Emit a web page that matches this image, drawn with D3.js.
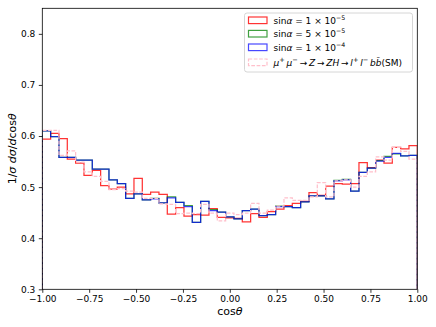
<!DOCTYPE html>
<html>
<head>
<meta charset="utf-8">
<script src="https://cdn.jsdelivr.net/npm/d3@7"></script>
<style>
  html, body { margin: 0; padding: 0; background: #fff; }
  svg { display: block; font-family: "DejaVu Sans", sans-serif; }
</style>
</head>
<body>
<svg id="chart" width="436" height="327"></svg>
<script>
// ---------------- data ----------------
const nBins = 45;
const xDomain = [-1, 1];
const yDomain = [0.3, 0.85];
const xTicks = [-1.0, -0.75, -0.5, -0.25, 0.0, 0.25, 0.5, 0.75, 1.0];
const xTickLabels = ["\u22121.00", "\u22120.75", "\u22120.50", "\u22120.25", "0.00", "0.25", "0.50", "0.75", "1.00"];
const yTicks = [0.3, 0.4, 0.5, 0.6, 0.7, 0.8];
const yTickLabels = ["0.3", "0.4", "0.5", "0.6", "0.7", "0.8"];

const redValues = [
  0.594, 0.605, 0.595, 0.555, 0.547, 0.523, 0.533, 0.503, 0.496, 0.500,
  0.487, 0.517, 0.486, 0.490, 0.486, 0.447, 0.460, 0.443, 0.446, 0.445,
  0.458, 0.441, 0.440, 0.439, 0.432, 0.448, 0.441, 0.452, 0.457, 0.464,
  0.468, 0.472, 0.489, 0.484, 0.502, 0.507, 0.506, 0.507, 0.548, 0.538,
  0.553, 0.547, 0.578, 0.575, 0.581
];
const greenValues = [
  0.610, 0.599, 0.558, 0.558, 0.553, 0.553, 0.535, 0.535, 0.514, 0.507,
  0.478, 0.487, 0.475, 0.478, 0.469, 0.481, 0.470, 0.464, 0.431, 0.472,
  0.456, 0.451, 0.442, 0.438, 0.454, 0.457, 0.444, 0.446, 0.463, 0.462,
  0.460, 0.471, 0.483, 0.483, 0.477, 0.513, 0.515, 0.492, 0.529, 0.537,
  0.552, 0.560, 0.565, 0.561, 0.562
];
const blueValues = [
  0.610, 0.599, 0.558, 0.558, 0.553, 0.553, 0.535, 0.535, 0.514, 0.507,
  0.478, 0.487, 0.475, 0.477, 0.469, 0.479, 0.470, 0.462, 0.431, 0.472,
  0.454, 0.451, 0.442, 0.438, 0.454, 0.457, 0.444, 0.446, 0.462, 0.462,
  0.460, 0.471, 0.483, 0.483, 0.477, 0.512, 0.514, 0.492, 0.529, 0.537,
  0.551, 0.558, 0.566, 0.561, 0.562
];
const pinkValues = [
  0.611, 0.611, 0.562, 0.571, 0.549, 0.530, 0.521, 0.511, 0.495, 0.497,
  0.492, 0.490, 0.478, 0.478, 0.467, 0.466, 0.448, 0.449, 0.448, 0.466,
  0.449, 0.434, 0.449, 0.446, 0.449, 0.468, 0.449, 0.455, 0.463, 0.479,
  0.474, 0.474, 0.481, 0.509, 0.481, 0.512, 0.514, 0.500, 0.521, 0.530,
  0.559, 0.553, 0.578, 0.570, 0.555
];

const seriesNames = ["red", "green", "blue", "pink"];
const seriesColors = ["#ff0000", "#008000", "#0000ff", "#ffc0cb"];
const seriesOpacity = [0.8, 0.75, 0.72, 1.0];
const seriesDash = [null, null, null, "3.7,1.6"];

// ---------------- layout ----------------
const W = 436, H = 327;
const m = { left: 42.3, right: 436 - 417.3, top: 8.3, bottom: 327 - 289.3 };
const svg = d3.select("#chart");

const x = d3.scaleLinear().domain(xDomain).range([m.left, W - m.right]);
const y = d3.scaleLinear().domain(yDomain).range([H - m.bottom, m.top]);

const edges = d3.range(nBins + 1).map(i => xDomain[0] + i * (xDomain[1] - xDomain[0]) / nBins);

svg.append("defs").append("clipPath").attr("id", "clip")
  .append("rect")
  .attr("x", m.left).attr("y", m.top)
  .attr("width", W - m.left - m.right).attr("height", H - m.top - m.bottom);

const allSeries = [redValues, greenValues, blueValues, pinkValues];

const line = d3.line().x(d => x(d[0])).y(d => y(d[1])).curve(d3.curveStepAfter);

const plot = svg.append("g").attr("clip-path", "url(#clip)");
allSeries.forEach((vals, si) => {
  const pts = [[edges[0], 0]];
  vals.forEach((v, i) => pts.push([edges[i], v]));
  pts.push([edges[nBins], vals[nBins - 1]]);
  pts.push([edges[nBins], 0]);
  const p = plot.append("path")
    .attr("d", line(pts))
    .attr("fill", "none")
    .attr("stroke", seriesColors[si])
    .attr("stroke-opacity", seriesOpacity[si])
    .attr("stroke-width", 1.25)
    .attr("stroke-linejoin", "miter");
  if (seriesDash[si]) p.attr("stroke-dasharray", seriesDash[si]);
});

// ---------------- axes ----------------
const xAxis = d3.axisBottom(x).tickValues(xTicks).tickSize(3.5).tickPadding(3)
  .tickFormat((d, i) => xTickLabels[i]);
const yAxis = d3.axisLeft(y).tickValues(yTicks).tickSize(3.5).tickPadding(3.5)
  .tickFormat((d, i) => yTickLabels[i]);

const gx = svg.append("g").attr("transform", `translate(0,${H - m.bottom})`).call(xAxis);
const gy = svg.append("g").attr("transform", `translate(${m.left},0)`).call(yAxis);
[gx, gy].forEach(g => {
  g.select(".domain").remove();
  g.selectAll(".tick line").attr("stroke", "#000").attr("stroke-width", 0.8);
  g.selectAll(".tick text").attr("fill", "#000").attr("font-size", 9)
    .attr("font-family", "DejaVu Sans, sans-serif");
});

// frame
svg.append("rect")
  .attr("x", m.left).attr("y", m.top)
  .attr("width", W - m.left - m.right).attr("height", H - m.top - m.bottom)
  .attr("fill", "none").attr("stroke", "#000").attr("stroke-width", 0.8);

// axis labels
const xl = svg.append("text")
  .attr("x", (m.left + W - m.right) / 2).attr("y", 315)
  .attr("text-anchor", "middle").attr("font-size", 11).attr("fill", "#000");
xl.append("tspan").text("cos");
xl.append("tspan").attr("font-style", "italic").text("\u03B8");

const yl = svg.append("text")
  .attr("transform", `translate(16,${(m.top + H - m.bottom) / 2}) rotate(-90)`)
  .attr("text-anchor", "middle").attr("font-size", 11).attr("fill", "#000");
yl.append("tspan").text("1/");
yl.append("tspan").attr("font-style", "italic").text("\u03C3 d\u03C3");
yl.append("tspan").text("/");
yl.append("tspan").attr("font-style", "italic").text("d");
yl.append("tspan").text("cos");
yl.append("tspan").attr("font-style", "italic").text("\u03B8");

// ---------------- legend ----------------
const lg = svg.append("g");
lg.append("rect")
  .attr("x", 244.5).attr("y", 13).attr("width", 168).attr("height", 59)
  .attr("rx", 2.5).attr("fill", "#fff").attr("fill-opacity", 0.8)
  .attr("stroke", "#cccccc").attr("stroke-width", 0.8);

const rowY = [20.3, 33.7, 47.3, 62.3];
seriesNames.forEach((n, i) => {
  const r = lg.append("rect")
    .attr("x", 248.5).attr("y", rowY[i] - 3.3).attr("width", 18.5).attr("height", 6.6)
    .attr("fill", "none").attr("stroke", seriesColors[i])
    .attr("stroke-opacity", seriesOpacity[i]).attr("stroke-width", 1.2);
  if (seriesDash[i]) r.attr("stroke-dasharray", seriesDash[i]);
});

const sinLabels = [["1", "\u22125"], ["5", "\u22125"], ["1", "\u22124"]];
sinLabels.forEach((s, i) => {
  const t = lg.append("text").attr("x", 273.5).attr("y", rowY[i] + 3.3)
    .attr("font-size", 9).attr("fill", "#000");
  t.append("tspan").text("sin");
  t.append("tspan").attr("font-style", "italic").text("\u03B1");
  t.append("tspan").text(" = " + s[0] + " \u00D7 10");
  t.append("tspan").attr("font-size", 6.3).attr("dy", -3.6).text(s[1]);
});
{
  const t = lg.append("text").attr("x", 273.5).attr("y", rowY[3] + 3.3)
    .attr("font-size", 9).attr("fill", "#000");
  const sup = (txt) => t.append("tspan").attr("font-size", 6.6).attr("dy", -3.6).text(txt);
  const it = (txt, dy) => { const s = t.append("tspan").attr("font-style", "italic").text(txt); if (dy) s.attr("dy", dy); return s; };
  it("\u03BC");
  sup("+");
  it("\u2009\u03BC", 3.6);
  sup("\u2212");
  t.append("tspan").attr("dy", 3.6).text("\u2009\u2192\u2009");
  it("Z");
  t.append("tspan").text("\u2009\u2192\u2009");
  it("ZH");
  t.append("tspan").text("\u2009\u2192\u2009");
  it("l");
  sup("+");
  it("\u2009l", 3.6);
  sup("\u2212");
  it("\u2009b", 3.6);
  it("b\u0304");
  t.append("tspan").text("(SM)");
}
</script>
</body>
</html>
